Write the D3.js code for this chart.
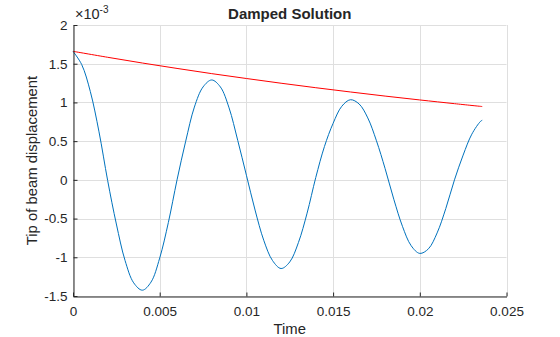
<!DOCTYPE html>
<html>
<head>
<meta charset="utf-8">
<script src="https://cdn.jsdelivr.net/npm/d3@7"></script>
<style>
  html, body { margin: 0; padding: 0; background: #ffffff; }
  svg { display: block; font-family: "Liberation Sans", Arial, Helvetica, sans-serif; }
</style>
</head>
<body>
<svg id="chart" width="560" height="337"></svg>
<script>
// Beam tip displacement (units of 1e-3) over time in seconds
const time = [
  0.0000, 0.0005, 0.0010, 0.0015, 0.0020, 0.0025, 0.0030, 0.0035, 0.0040, 0.0045,
  0.0050, 0.0055, 0.0060, 0.0065, 0.0070, 0.0075, 0.0080, 0.0085, 0.0090, 0.0095,
  0.0100, 0.0105, 0.0110, 0.0115, 0.0120, 0.0125, 0.0130, 0.0135, 0.0140, 0.0145,
  0.0150, 0.0155, 0.0160, 0.0165, 0.0170, 0.0175, 0.0180, 0.0185, 0.0190, 0.0195,
  0.0200, 0.0205, 0.0210, 0.0215, 0.0220, 0.0225, 0.0230, 0.0235, 0.0236
];
const displacement = [
  1.660, 1.490, 1.140, 0.620, -0.010, -0.570, -1.040, -1.330, -1.425, -1.320,
  -1.010, -0.550, 0.000, 0.500, 0.940, 1.200, 1.290, 1.200, 0.930, 0.510,
  0.060, -0.390, -0.780, -1.040, -1.145, -1.060, -0.810, -0.430, 0.030, 0.430,
  0.730, 0.950, 1.035, 0.980, 0.800, 0.505, 0.145, -0.250, -0.600, -0.850,
  -0.950, -0.890, -0.685, -0.370, 0.000, 0.320, 0.590, 0.755, 0.770
];

// Decay envelope
const envTime = [0, 0.002, 0.004, 0.006, 0.008, 0.010, 0.012, 0.014, 0.016, 0.018, 0.020, 0.022, 0.0236];
const envelope = [1.660, 1.583, 1.509, 1.439, 1.372, 1.309, 1.248, 1.190, 1.135, 1.082, 1.032, 0.984, 0.947];

const xTicks = [0, 0.005, 0.01, 0.015, 0.02, 0.025];
const xTickLabels = ["0", "0.005", "0.01", "0.015", "0.02", "0.025"];
const yTicks = [-1.5, -1, -0.5, 0, 0.5, 1, 1.5, 2];
const yTickLabels = ["-1.5", "-1", "-0.5", "0", "0.5", "1", "1.5", "2"];

const titleText = "Damped Solution";
const xLabel = "Time";
const yLabel = "Tip of beam displacement";

const svg = d3.select("#chart");
const plotLeft = 73, plotRight = 506.5, plotTop = 25, plotBottom = 296;

const x = d3.scaleLinear().domain([0, 0.025]).range([plotLeft, plotRight]);
const y = d3.scaleLinear().domain([-1.5, 2]).range([plotBottom, plotTop]);

const axisColor = "#262626";
const gridColor = "#dfdfdf";

// grid
const grid = svg.append("g");
grid.selectAll("line.gx").data(xTicks).join("line")
  .attr("x1", d => Math.round(x(d)) + 0.5).attr("x2", d => Math.round(x(d)) + 0.5)
  .attr("y1", plotTop).attr("y2", plotBottom)
  .attr("stroke", gridColor).attr("stroke-width", 1);
grid.selectAll("line.gy").data(yTicks).join("line")
  .attr("y1", d => Math.round(y(d)) + 0.5).attr("y2", d => Math.round(y(d)) + 0.5)
  .attr("x1", plotLeft).attr("x2", plotRight)
  .attr("stroke", gridColor).attr("stroke-width", 1);

// curves
const dispLine = d3.line()
  .x((d, i) => x(time[i]))
  .y(d => y(d))
  .curve(d3.curveCatmullRom.alpha(0.5));
svg.append("path")
  .attr("d", dispLine(displacement))
  .attr("fill", "none").attr("stroke", "#0072bd").attr("stroke-width", 1);

const envLine = d3.line()
  .x((d, i) => x(envTime[i]))
  .y(d => y(d))
  .curve(d3.curveCatmullRom.alpha(0.5));
svg.append("path")
  .attr("d", envLine(envelope))
  .attr("fill", "none").attr("stroke", "#ff0000").attr("stroke-width", 1);

// axes
const xAxis = d3.axisBottom(x)
  .tickValues(xTicks)
  .tickFormat((d, i) => xTickLabels[i])
  .tickSizeInner(-4).tickSizeOuter(0).tickPadding(10);
const gx = svg.append("g")
  .attr("transform", `translate(0,${plotBottom + 0.5})`)
  .call(xAxis);

const yAxis = d3.axisLeft(y)
  .tickValues(yTicks)
  .tickFormat((d, i) => yTickLabels[i])
  .tickSizeInner(-4).tickSizeOuter(0).tickPadding(6);
const gy = svg.append("g")
  .attr("transform", `translate(${plotLeft + 0.5},0)`)
  .call(yAxis);

[gx, gy].forEach(g => {
  g.select(".domain").attr("stroke", axisColor);
  g.selectAll(".tick line").attr("stroke", axisColor);
  g.selectAll(".tick text")
    .attr("fill", axisColor)
    .style("font-size", "13.5px")
    .style("font-family", "'Liberation Sans', Arial, sans-serif");
});

// exponent marker
const expo = svg.append("text")
  .attr("x", 75).attr("y", 19)
  .attr("fill", axisColor)
  .style("font-size", "14.5px");
expo.append("tspan").text("\u00d710");
expo.append("tspan").attr("dy", -6).style("font-size", "10px").text("-3");

// title and labels
svg.append("text")
  .attr("x", (plotLeft + plotRight) / 2).attr("y", 19)
  .attr("text-anchor", "middle")
  .attr("fill", axisColor)
  .style("font-size", "15px").style("font-weight", "bold")
  .text(titleText);

svg.append("text")
  .attr("x", (plotLeft + plotRight) / 2).attr("y", 334)
  .attr("text-anchor", "middle")
  .attr("fill", axisColor)
  .style("font-size", "14.85px")
  .text(xLabel);

svg.append("text")
  .attr("transform", `translate(37,${(plotTop + plotBottom) / 2}) rotate(-90)`)
  .attr("text-anchor", "middle")
  .attr("fill", axisColor)
  .style("font-size", "14.85px")
  .text(yLabel);
</script>
</body>
</html>
